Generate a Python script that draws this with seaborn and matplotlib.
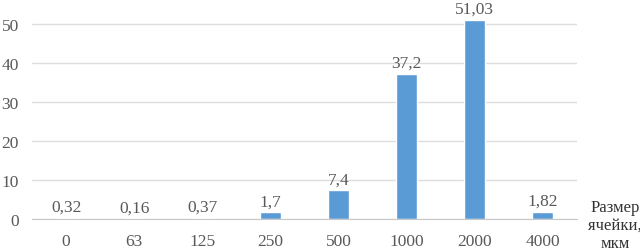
import matplotlib
matplotlib.use('Agg')
import matplotlib.pyplot as plt
import pandas as pd
import seaborn as sns

# mesh size categories and share values
sizes = ['0', '63', '125', '250', '500', '1000', '2000', '4000']
values = [0.32, 0.16, 0.37, 1.7, 7.4, 37.2, 51.03, 1.82]
labels = ['0,32', '0,16', '0,37', '1,7', '7,4', '37,2', '51,03', '1,82']
yticks = [0, 10, 20, 30, 40, 50]

df = pd.DataFrame({'size': sizes, 'value': values})

sns.set_style('white')
plt.rcParams['font.family'] = ['Liberation Serif', 'DejaVu Serif']

fig = plt.figure(figsize=(6.4, 2.51), dpi=100)
ax = fig.add_axes([32 / 640, 1 - 220 / 251, 545 / 640, 220 / 251])

sns.barplot(data=df, x='size', y='value', order=sizes, color='#5B9BD5',
            saturation=1, width=0.31, ax=ax)

ax.set_ylim(0, 56.4)
ax.set_yticks(yticks)
ax.yaxis.grid(True, color='#DDDDDD', linewidth=1)
ax.set_axisbelow(True)
for s in ['top', 'right', 'left']:
    ax.spines[s].set_visible(False)
ax.spines['bottom'].set_color('#C8C8C8')
ax.tick_params(axis='both', length=0, labelsize=12.5, colors='#595959')
ax.tick_params(axis='y', pad=9.5)
ax.tick_params(axis='x', pad=10)
ax.set_xlabel('')
ax.set_ylabel('')

# value labels above bars
for i, (v, t) in enumerate(zip(values, labels)):
    ax.annotate(t, (i, v), xytext=(0, 5), textcoords='offset points',
                ha='center', va='baseline', fontsize=12.5, color='#595959')

fig.text(615 / 640, 1 - 226 / 251, 'Размер\nячейки,\nмкм', ha='center', va='center',
         fontsize=12, color='#333333', linespacing=1.2)

fig.savefig('out.png', dpi=100)
